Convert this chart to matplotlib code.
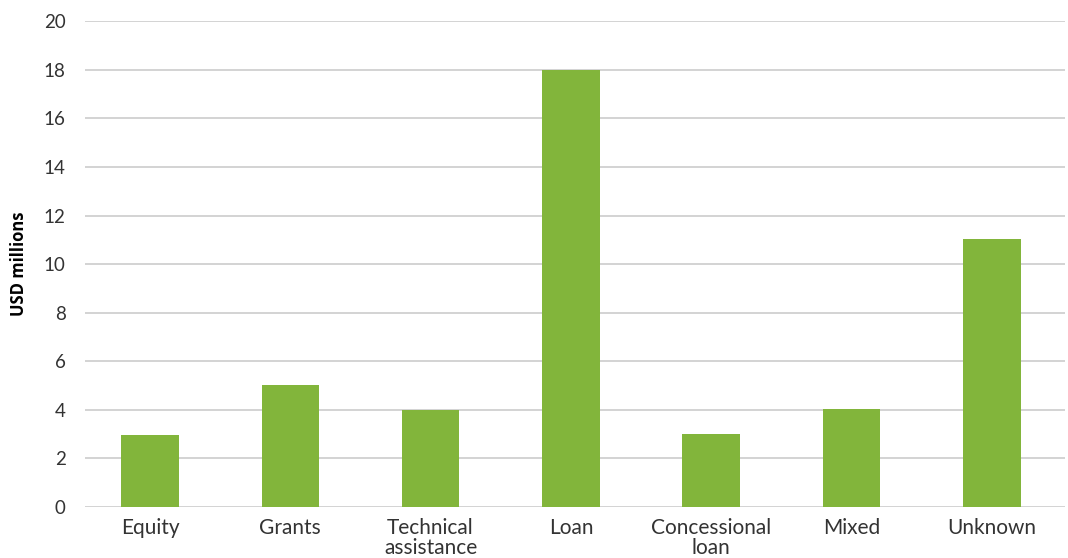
import matplotlib.pyplot as plt

# Funding by instrument type
categories = ['Equity', 'Grants', 'Technical\nassistance', 'Loan',
              'Concessional\nloan', 'Mixed', 'Unknown']
values = [2.98, 5.03, 3.98, 17.98, 3.02, 4.04, 11.05]
yticks = list(range(0, 21, 2))

bar_color = '#82b53b'
grid_color = '#d0d0d0'
text_color = '#333333'

plt.rcParams['font.family'] = ['Lato', 'DejaVu Sans']

fig = plt.figure(figsize=(10.68, 5.58), dpi=100)
ax = fig.add_axes([0.0796, 0.0914, 0.9174, 0.8706])

x = range(len(categories))
ax.bar(x, values, width=0.41, color=bar_color, zorder=3)

ax.set_xlim(-0.463, 6.52)
ax.set_ylim(0, 20)
ax.set_yticks(yticks)
ax.set_yticklabels([str(t) for t in yticks], fontsize=13.5,
                   color=text_color)
ax.set_xticks(list(x))
ax.set_xticklabels(categories, fontsize=15, color=text_color,
                   linespacing=0.98)

ax.grid(axis='y', color=grid_color, linewidth=1.3, zorder=0)
ax.tick_params(axis='y', length=0, pad=14)
ax.tick_params(axis='x', length=0, pad=8)
for side in ['top', 'right', 'left', 'bottom']:
    ax.spines[side].set_visible(False)

ax.set_ylabel('USD millions', fontsize=12, fontweight='bold',
              color='black', family=['Open Sans', 'DejaVu Sans'], labelpad=11)

fig.savefig('out.png', dpi=100)
